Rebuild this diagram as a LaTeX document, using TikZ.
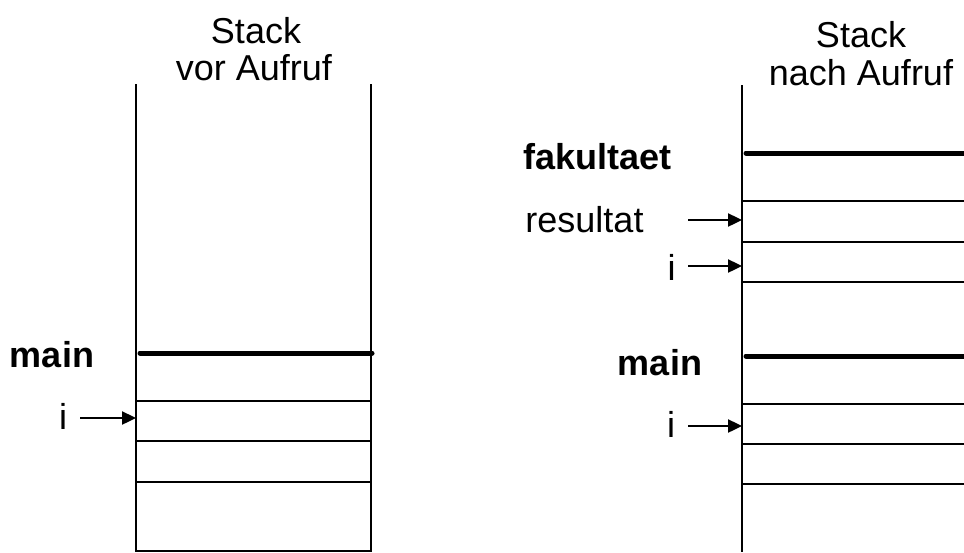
\documentclass[tikz,border=0pt]{standalone}
\usepackage{fontspec}
\setmainfont{Liberation Sans}
\usetikzlibrary{arrows.meta}

\begin{document}
\begin{tikzpicture}[x=1pt,y=-1pt,
  lbl/.style={font=\fontsize{36}{37}\selectfont, inner sep=0pt, anchor=base},
  fname/.style={font=\fontsize{36}{37}\selectfont\bfseries, inner sep=0pt, anchor=base},
  wall/.style={line width=2.4pt},
  slot/.style={line width=2.4pt},
  frame/.style={line width=5pt, line cap=round},
  ptr/.style={line width=2.4pt, -{Triangle[length=14pt,width=13pt]}}]
\useasboundingbox (0,0) rectangle (964,552);

% ---------- stack before the call ----------
\node[lbl] (tL1) at (256,43) {Stack};
\node[lbl] (tL2) at (254,80) {vor Aufruf};

\coordinate (wLtop) at (136,84);
\coordinate (wLbot) at (136,551);
\coordinate (wRtop) at (371,84);
\coordinate (wRbot) at (371,551);
\draw[wall] (wLtop) -- (wLbot) -- (wRbot) -- (wRtop);

\draw[frame] (140,353) -- (372,353);
\foreach \y in {401,441,482}
  \draw[slot] (136,\y) -- (371,\y);

\node[fname] (mainL) at (52,367) {main};
\node[lbl] (iL) at (63,429) {i};
\coordinate (iLs) at (80,418);
\coordinate (iLe) at (136,418);
\draw[ptr] (iLs) -- (iLe);

% ---------- stack after the call ----------
\node[lbl] (tR1) at (861,47) {Stack};
\node[lbl] (tR2) at (861,85) {nach Aufruf};

\coordinate (vRtop) at (742,85);
\coordinate (vRbot) at (742,552);
\draw[wall] (vRtop) -- (vRbot);

\draw[frame] (746,153) -- (968,153);
\foreach \y in {201,242,282}
  \draw[slot] (742,\y) -- (964,\y);

\draw[frame] (746,356) -- (968,356);
\foreach \y in {404,444,484}
  \draw[slot] (742,\y) -- (964,\y);

\node[fname] (fak) at (597.5,169) {fakultaet};
\node[lbl] (res) at (584.5,232) {resultat};
\node[lbl] (iR1) at (671.5,280) {i};
\node[fname] (mainR) at (660,375) {main};
\node[lbl] (iR2) at (671,437) {i};

\coordinate (resS) at (688,220);
\coordinate (resE) at (742,220);
\coordinate (iR1s) at (688,266);
\coordinate (iR1e) at (742,266);
\coordinate (iR2s) at (688,426);
\coordinate (iR2e) at (742,426);
\draw[ptr] (resS) -- (resE);
\draw[ptr] (iR1s) -- (iR1e);
\draw[ptr] (iR2s) -- (iR2e);
\end{tikzpicture}
\end{document}
